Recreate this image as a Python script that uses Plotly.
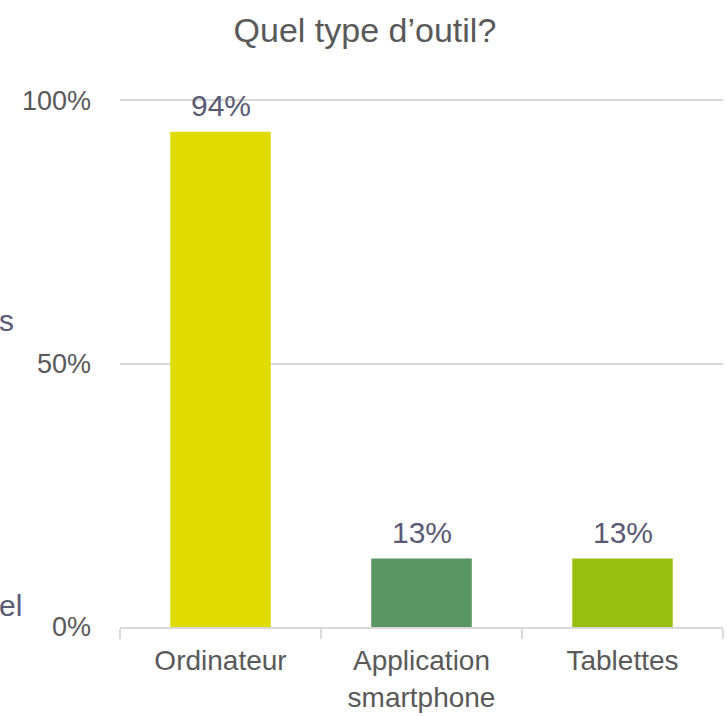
import plotly.graph_objects as go

categories = ["Ordinateur", "Application<br>smartphone", "Tablettes"]
values = [0.94, 0.13, 0.13]
labels = ["94%", "13%", "13%"]
colors = ["#E0DC00", "#5A9664", "#98BF10"]
tick_vals = [0, 0.5, 1.0]
tick_text = ["0%", "50%", "100%"]

FONT = "Liberation Sans, Arial, sans-serif"
W, H = 727, 716
L, R, T, B = 120, 4, 99, 89
PW, PH = W - L - R, H - T - B

fig = go.Figure()
fig.add_trace(go.Bar(
    x=categories, y=values, marker=dict(color=colors, line=dict(width=0)),
    width=0.5, hoverinfo="skip",
))

for c, v, t in zip(categories, values, labels):
    fig.add_annotation(x=c, y=v, text=t, showarrow=False, yanchor="bottom",
                       yshift=8, font=dict(family=FONT, size=30, color="#5A5A74"))

# cropped fragments from neighbouring content on the left edge
fig.add_annotation(xref="paper", yref="paper", x=-(L + 3) / PW, y=(H - B - 320) / PH, text="s",
                   showarrow=False, xanchor="left", yanchor="middle",
                   font=dict(family=FONT, size=30, color="#5A5A74"))
fig.add_annotation(xref="paper", yref="paper", x=-(L + 3) / PW, y=(H - B - 605) / PH, text="el",
                   showarrow=False, xanchor="left", yanchor="middle",
                   font=dict(family=FONT, size=30, color="#5A5A74"))

fig.update_layout(
    width=W, height=H,
    margin=dict(l=L, r=R, t=T, b=B, autoexpand=False),
    paper_bgcolor="white", plot_bgcolor="white",
    showlegend=False,
    title=dict(text="Quel type d’outil?", x=0.502, xanchor="center", y=1 - 30 / H, yanchor="middle",
               font=dict(family=FONT, size=34, color="#595959")),
    xaxis=dict(
        showline=True, linecolor="#D9D9D9", linewidth=1.5,
        ticks="outside", tickson="boundaries", ticklen=10, tickcolor="#D9D9D9", tickwidth=1.5,
        tickfont=dict(family=FONT, size=28, color="#595959"),
        ticklabelstandoff=8, automargin=False,
        showgrid=False,
    ),
    yaxis=dict(
        range=[0, 1.002], tickvals=tick_vals, ticktext=tick_text,
        showgrid=True, gridcolor="#D9D9D9", gridwidth=1.5,
        zeroline=False, showline=False, automargin=False,
        ticklabelstandoff=28,
        tickfont=dict(family=FONT, size=27, color="#595959"),
    ),
)

fig.write_html("out.html", config={"displayModeBar": False},
               post_script="document.body.style.margin='0px';document.body.style.overflow='hidden';")
